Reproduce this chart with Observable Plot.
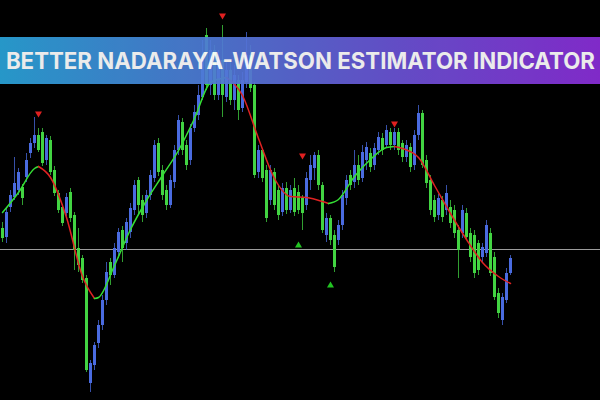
<!DOCTYPE html>
<html>
<head>
<meta charset="utf-8">
<script src="https://cdn.jsdelivr.net/npm/d3@7"></script>
<script src="https://cdn.jsdelivr.net/npm/@observablehq/plot@0.6"></script>
<style>
  html, body { margin: 0; padding: 0; background: #000; }
  #wrap { position: relative; width: 600px; height: 400px; overflow: hidden; background: #000; }
  #banner {
    position: absolute; left: 0; top: 37px; width: 600px; height: 47px;
    background: linear-gradient(90deg, #2aa4d9 0%, #4f7ad6 35%, #6a55d6 65%, #8b2ed9 100%);
    opacity: 0.92; display: flex; align-items: center; justify-content: center;
  }
  #banner span {
    color: #fff; font-family: "Inter", "Open Sans", "DejaVu Sans", sans-serif; font-weight: 700;
    font-size: 23px; white-space: nowrap; display: inline-block; transform-origin: center center;
    letter-spacing: 0px;
  }
</style>
</head>
<body>
<div id="wrap"><div id="chart"></div><div id="banner"><span id="title">BETTER NADARAYA-WATSON ESTIMATOR INDICATOR</span></div></div>
<script>
// Candle data (bar index = position in arrays), prices in chart points
const open  = [172,163,193,203,210,213,223,247,257,265,268,240,260,230,207,193,187,208,185,152,142,122,17,35,57,75,100,138,125,148,170,157,168,190,220,200,187,205,222,257,230,210,195,218,250,278,255,240,272,285,303,365,315,350,305,340,303,330,300,320,292,318,345,315,228,250,230,200,228,210,188,212,190,212,208,202,195,220,232,245,215,165,182,165,160,175,202,225,218,235,222,240,247,235,250,262,255,268,255,268,257,243,253,235,265,287,240,220,200,185,200,190,193,190,170,167,187,167,165,157,143,147,167,143,107,80,100,127];
const close = [162,188,205,217,228,202,240,257,265,250,237,262,228,207,190,177,203,182,150,135,120,30,37,55,75,100,128,125,152,168,152,178,192,215,195,185,205,225,255,228,205,195,220,250,280,250,235,272,288,305,340,315,350,305,340,305,330,300,325,290,320,345,312,225,250,222,182,230,195,185,212,190,210,188,190,187,222,235,245,215,170,182,160,133,175,205,220,215,235,220,248,253,233,252,263,250,270,255,268,250,243,255,233,265,287,235,217,190,183,202,183,207,177,167,150,190,163,143,127,130,153,175,127,103,87,103,127,142];
const high  = [178,192,210,243,232,216,247,262,283,272,272,265,264,234,210,196,207,212,188,172,145,125,40,58,80,105,138,142,157,172,174,182,197,220,223,205,210,230,260,262,235,215,225,255,285,282,260,276,295,315,360,372,360,355,350,375,338,340,335,325,328,368,355,318,255,252,235,235,232,215,217,218,215,222,215,205,228,245,248,250,218,187,185,170,180,210,225,230,250,245,255,258,252,257,268,267,275,272,272,272,260,260,257,270,295,290,245,225,205,206,204,215,200,195,175,195,192,172,170,160,157,180,172,148,112,107,132,145];
const low   = [158,157,188,200,205,195,218,242,252,248,234,235,225,204,187,174,184,178,130,128,117,28,8,30,52,70,95,115,122,142,138,150,162,185,185,178,182,200,218,224,200,190,192,212,245,245,230,235,268,280,300,310,305,300,300,283,298,295,290,280,288,312,308,222,222,218,178,195,190,180,184,186,187,184,186,170,190,210,220,210,167,158,155,128,155,170,195,210,212,215,218,230,228,230,245,245,252,250,250,245,238,238,228,230,260,232,212,185,178,180,178,185,172,162,122,162,160,138,122,125,138,143,124,100,82,75,97,125];

// Nadaraya-Watson estimate (bar index, price)
const lineX = [0,4,8,9,12,16,20,23,24,28,32,36,40,44,48,52,56,60,64,68,72,76,80,81.5,84,88,92,96,98,100,104,108,112,116,120,124,127];
const lineY = [188,208,232,234,223,183,124,102,103,135,171,200,225,250,282,318,323,305,262,222,204,203,199,197,201,224,241,253,254,252,243,215,187,161,138,124,117];

// Fractal arrows and reference level
const downArrowBar = [9,55,75,98];
const downArrowPrice = [287,385,245,277];
const upArrowBar = [74,82];
const upArrowPrice = [155,115];
const levelPrice = [151];

const BLUE = "#4a6be0", GREEN = "#42d442", LINE_GREEN = "#35e035", LINE_RED = "#e02222";

const candles = open.map((o, i) => ({i, o, c: close[i], h: high[i], l: low[i], col: close[i] >= o ? BLUE : GREEN}));

// split estimator into rising (green) / falling (red) segments
const segPts = [];
let seg = 0, prevDir = null;
for (let k = 1; k < lineX.length; k++) {
  const dir = lineY[k] >= lineY[k - 1] ? "up" : "down";
  if (dir !== prevDir) {
    seg++;
    segPts.push({x: lineX[k - 1], y: lineY[k - 1], seg, col: dir === "up" ? LINE_GREEN : LINE_RED});
    prevDir = dir;
  }
  segPts.push({x: lineX[k], y: lineY[k], seg, col: dir === "up" ? LINE_GREEN : LINE_RED});
}

const downs = downArrowBar.map((b, k) => ({x: b, y: downArrowPrice[k]}));
const ups = upArrowBar.map((b, k) => ({x: b, y: upArrowPrice[k]}));

const chart = Plot.plot({
  width: 600, height: 400,
  marginLeft: 0, marginRight: 0, marginTop: 0, marginBottom: 0,
  style: {background: "#000"},
  x: {domain: [-0.5, 149.5], axis: null},
  y: {domain: [0, 400], axis: null},
  color: {type: "identity"},
  marks: [
    Plot.ruleY(levelPrice, {stroke: "#9c9c9c", strokeWidth: 1}),
    Plot.ruleX(candles, {x: "i", y1: "l", y2: "h", stroke: "col", strokeWidth: 1, strokeOpacity: 0.75}),
    Plot.ruleX(candles, {x: "i", y1: "o", y2: "c", stroke: "col", strokeWidth: 3}),
    Plot.line(segPts, {x: "x", y: "y", z: "seg", stroke: "col", strokeWidth: 1.5, curve: "monotone-x"}),
    Plot.dot(downs, {x: "x", y: "y", symbol: "triangle", r: 2.6, fill: "#e02020", rotate: 180}),
    Plot.dot(ups, {x: "x", y: "y", symbol: "triangle", r: 2.6, fill: "#22c422"})
  ]
});
document.getElementById("chart").appendChild(chart);

// fit the banner title to the width seen in the reference
const t = document.getElementById("title");
const w = t.getBoundingClientRect().width;
t.style.transform = `scaleX(${589 / w})`;
</script>
</body>
</html>
